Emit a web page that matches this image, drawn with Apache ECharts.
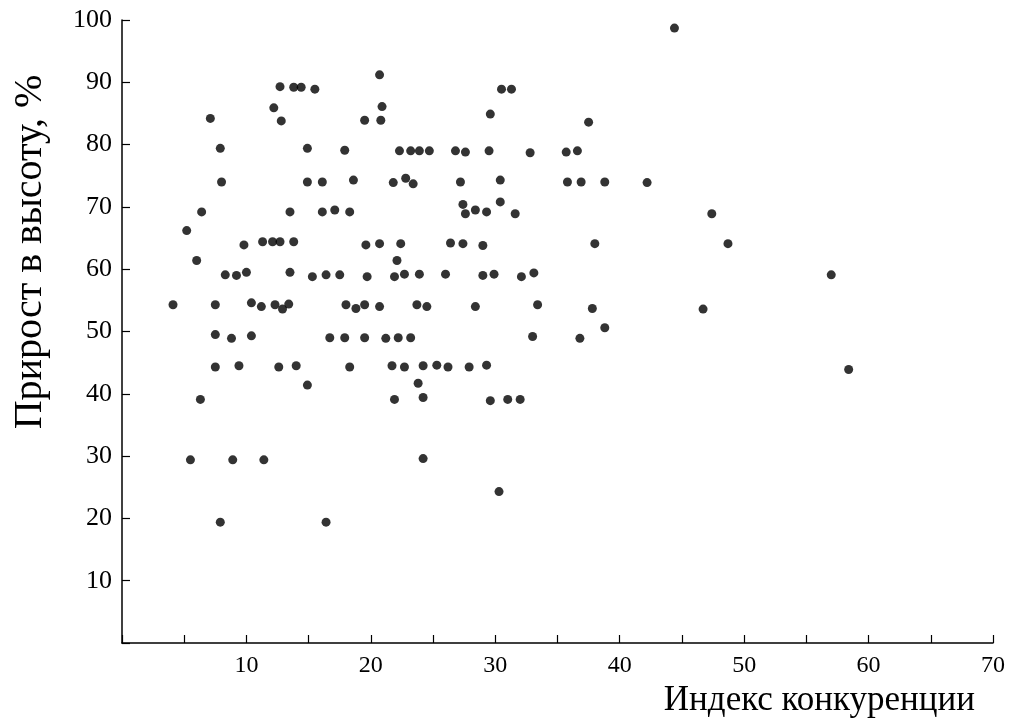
<!DOCTYPE html>
<html>
<head>
<meta charset="utf-8">
<title>Прирост в высоту и индекс конкуренции</title>
<script src="https://cdn.jsdelivr.net/npm/echarts@6/dist/echarts.min.js"></script>
<style>
  html, body { margin: 0; padding: 0; background: #fff; }
  #chart { width: 1017px; height: 724px; }
</style>
</head>
<body>
<div id="chart"></div>
<script>
// Competition index (x) for each tree
const competitionIndex = [
  44.4, 20.7, 12.7, 13.8, 14.4, 15.5, 30.5, 31.3, 12.2, 20.9,
  29.6, 7.1, 12.8, 19.5, 20.8, 37.5, 7.9, 14.9, 17.9, 22.3,
  23.2, 23.9, 24.7, 26.8, 27.6, 29.5, 32.8, 35.7, 36.6, 8.0,
  14.9, 16.1, 18.6, 21.8, 22.8, 23.4, 27.2, 30.4, 35.8, 36.9,
  38.8, 42.2, 6.4, 13.5, 16.1, 17.1, 18.3, 27.4, 27.6, 28.4,
  29.3, 30.4, 31.6, 47.4, 5.2, 9.8, 11.3, 12.1, 12.7, 13.8,
  19.6, 20.7, 22.4, 26.4, 27.4, 29.0, 38.0, 48.7, 6.0, 22.1,
  8.3, 9.2, 10.0, 13.5, 15.3, 16.4, 17.5, 19.7, 21.9, 22.7,
  23.9, 26.0, 29.0, 29.9, 32.1, 33.1, 57.0, 4.1, 7.5, 10.4,
  11.2, 12.3, 12.9, 13.4, 18.0, 18.8, 19.5, 20.7, 23.7, 24.5,
  28.4, 33.4, 37.8, 46.7, 38.8, 7.5, 8.8, 10.4, 16.7, 17.9,
  19.5, 21.2, 22.2, 23.2, 33.0, 36.8, 7.5, 9.4, 12.6, 14.0,
  18.3, 21.7, 22.7, 24.2, 25.3, 26.2, 27.9, 29.3, 58.4, 14.9,
  23.8, 6.3, 21.9, 24.2, 29.6, 31.0, 32.0, 5.5, 8.9, 11.4,
  24.2, 30.3, 7.9, 16.4
];

// Height growth, % (y) for the same trees
const heightGrowth = [
  98.7, 91.2, 89.3, 89.2, 89.2, 88.9, 88.9, 88.9, 85.9, 86.1,
  84.9, 84.2, 83.8, 83.9, 83.9, 83.6, 79.4, 79.4, 79.1, 79.0,
  79.0, 79.0, 79.0, 79.0, 78.8, 79.0, 78.7, 78.8, 79.0, 74.0,
  74.0, 74.0, 74.3, 73.9, 74.6, 73.7, 74.0, 74.3, 74.0, 74.0,
  74.0, 73.9, 69.2, 69.2, 69.2, 69.5, 69.2, 70.4, 68.9, 69.5,
  69.2, 70.8, 68.9, 68.9, 66.2, 63.9, 64.4, 64.4, 64.4, 64.4,
  63.9, 64.1, 64.1, 64.2, 64.1, 63.8, 64.1, 64.1, 61.4, 61.4,
  59.1, 59.0, 59.5, 59.5, 58.8, 59.1, 59.1, 58.8, 58.8, 59.2,
  59.2, 59.2, 59.0, 59.2, 58.8, 59.4, 59.1, 54.3, 54.3, 54.6,
  54.0, 54.3, 53.6, 54.4, 54.3, 53.7, 54.3, 54.0, 54.3, 54.0,
  54.0, 54.3, 53.7, 53.6, 50.6, 49.5, 48.9, 49.3, 49.0, 49.0,
  49.0, 48.9, 49.0, 49.0, 49.2, 48.9, 44.3, 44.5, 44.3, 44.5,
  44.3, 44.5, 44.3, 44.5, 44.6, 44.3, 44.3, 44.6, 43.9, 41.4,
  41.7, 39.1, 39.1, 39.4, 38.9, 39.1, 39.1, 29.4, 29.4, 29.4,
  29.6, 24.3, 19.4, 19.4
];

const xTitle = 'Индекс конкуренции';
const yTitle = 'Прирост в высоту, %';

const points = competitionIndex.map((x, i) => [x, heightGrowth[i]]);

const serif = '"Liberation Serif", "DejaVu Serif", serif';

const chart = echarts.init(document.getElementById('chart'), null, { renderer: 'canvas' });

chart.setOption({
  backgroundColor: '#ffffff',
  animation: false,
  grid: { left: 122, right: 24, top: 20, bottom: 81, containLabel: false },
  xAxis: {
    type: 'value',
    min: 0,
    max: 70,
    interval: 5,
    name: xTitle,
    nameLocation: 'end',
    nameGap: -18,
    nameTextStyle: {
      fontFamily: serif, fontSize: 35, color: '#000',
      align: 'right', verticalAlign: 'top', padding: [40, 0, 0, 0]
    },
    axisLine: { lineStyle: { color: '#000', width: 1.5 } },
    axisTick: { inside: true, length: 8, lineStyle: { color: '#000', width: 1.2 } },
    axisLabel: {
      fontFamily: serif, fontSize: 24, color: '#000', margin: 11,
      formatter: v => (v > 0 && v % 10 === 0) ? String(v) : ''
    },
    splitLine: { show: false }
  },
  yAxis: {
    type: 'value',
    min: 0,
    max: 100,
    interval: 10,
    axisLine: { lineStyle: { color: '#000', width: 1.5 } },
    axisTick: { inside: true, length: 8, lineStyle: { color: '#000', width: 1.2 } },
    axisLabel: {
      fontFamily: serif, fontSize: 26, color: '#000', margin: 10,
      formatter: v => v > 0 ? String(v) : ''
    },
    splitLine: { show: false }
  },
  graphic: [{
    type: 'text',
    x: 30,
    y: 252,
    rotation: Math.PI / 2,
    style: {
      text: yTitle,
      fontFamily: serif,
      fontSize: 40,
      fill: '#000',
      align: 'center',
      verticalAlign: 'middle'
    }
  }],
  series: [{
    type: 'scatter',
    data: points,
    symbol: 'circle',
    symbolSize: 9,
    itemStyle: { color: '#000' }
  }]
});
</script>
</body>
</html>
